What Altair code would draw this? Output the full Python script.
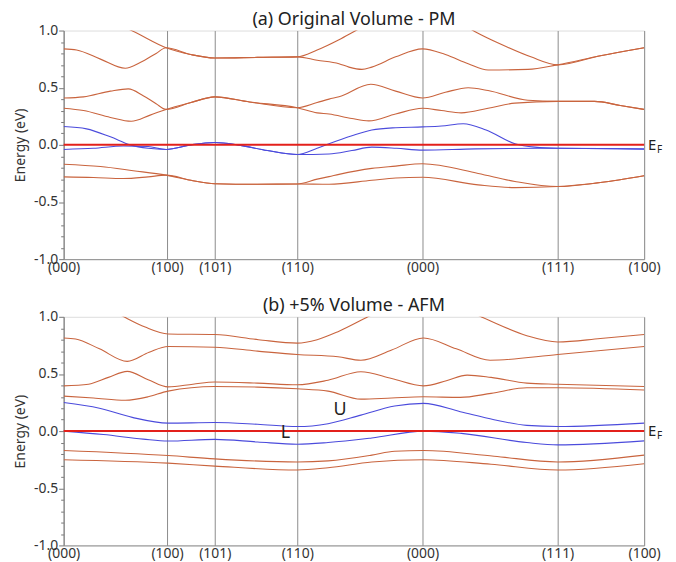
import altair as alt
import pandas as pd

# k-path positions of high-symmetry points (path distance, arb. units)
KPOS = [0, 104, 152, 235, 361, 497, 584]
KLABELS = ["(000)", "(100)", "(101)", "(110)", "(000)", "(111)", "(100)"]

TITLE_A = "(a) Original Volume - PM"
TITLE_B = "(b) +5% Volume - AFM"

# ---- panel (a) bands: (k list, energy list) ----
A_KIND = ["red", "red", "red", "red", "blue", "blue", "red", "red"]
A_K = [
    [0, 40, 73, 103, 128, 152, 195, 235, 255, 277, 294, 320, 361, 400, 414, 440, 470, 497, 540, 584],
    [0, 13, 37, 62, 77, 93, 103, 128, 152, 195, 235, 255, 277, 287, 300, 310, 334, 361, 384, 407, 427, 467, 497, 540, 584],
    [0, 20, 47, 65, 80, 93, 103, 128, 152, 187, 235, 255, 267, 277, 309, 334, 361, 384, 407, 427, 467, 497, 534, 560, 584],
    [0, 20, 47, 68, 87, 103, 128, 152, 187, 235, 255, 267, 290, 307, 334, 361, 380, 400, 427, 454, 497, 534, 560, 584],
    [0, 23, 47, 67, 85, 103, 128, 152, 175, 205, 235, 255, 267, 290, 310, 334, 361, 380, 402, 425, 454, 474, 497, 584],
    [0, 30, 60, 85, 103, 128, 152, 175, 205, 235, 267, 290, 310, 335, 361, 414, 497, 584],
    [0, 37, 70, 103, 128, 152, 195, 235, 255, 267, 277, 310, 334, 361, 417, 454, 497, 540, 584],
    [0, 30, 60, 85, 103, 128, 152, 195, 235, 267, 310, 334, 361, 417, 454, 497, 540, 584],
]
A_E = [
    [1.30, 1.12, 0.98, 0.85, 0.79, 0.76, 0.765, 0.77, 0.83, 0.92, 1.00, 1.12, 1.20, 1.06, 0.99, 0.88, 0.77, 0.70, 0.78, 0.85],
    [0.84, 0.83, 0.75, 0.67, 0.72, 0.80, 0.85, 0.79, 0.76, 0.765, 0.77, 0.74, 0.71, 0.68, 0.66, 0.68, 0.77, 0.84, 0.79, 0.71, 0.655, 0.66, 0.70, 0.78, 0.85],
    [0.41, 0.42, 0.47, 0.49, 0.43, 0.36, 0.31, 0.37, 0.42, 0.375, 0.325, 0.37, 0.40, 0.42, 0.53, 0.47, 0.41, 0.46, 0.50, 0.475, 0.39, 0.38, 0.38, 0.345, 0.31],
    [0.32, 0.30, 0.24, 0.206, 0.26, 0.31, 0.37, 0.42, 0.375, 0.325, 0.28, 0.27, 0.23, 0.21, 0.27, 0.32, 0.30, 0.28, 0.32, 0.365, 0.38, 0.38, 0.345, 0.31],
    [0.16, 0.14, 0.07, 0.0, -0.03, -0.04, 0.0, 0.02, 0.0, -0.05, -0.085, -0.03, 0.01, 0.08, 0.13, 0.15, 0.157, 0.165, 0.185, 0.13, 0.01, -0.02, -0.03, -0.035],
    [-0.04, -0.03, -0.01, -0.015, -0.04, 0.0, 0.02, 0.0, -0.05, -0.085, -0.08, -0.05, -0.02, -0.03, -0.046, -0.035, -0.03, -0.038],
    [-0.17, -0.19, -0.226, -0.265, -0.31, -0.34, -0.345, -0.342, -0.30, -0.278, -0.258, -0.206, -0.186, -0.165, -0.25, -0.32, -0.365, -0.33, -0.27],
    [-0.28, -0.285, -0.295, -0.28, -0.265, -0.31, -0.34, -0.345, -0.342, -0.345, -0.31, -0.29, -0.284, -0.35, -0.374, -0.365, -0.33, -0.27],
]

# ---- panel (b) bands ----
B_KIND = ["red", "red", "red", "red", "blue", "blue", "red", "red"]
B_K = [
    [0, 40, 62, 82, 105, 152, 196, 235, 255, 276, 306, 340, 362, 400, 429, 466, 497, 540, 584],
    [0, 12, 36, 64, 86, 105, 152, 195, 235, 276, 299, 330, 362, 395, 429, 497, 584],
    [0, 25, 45, 64, 85, 105, 130, 152, 195, 235, 266, 299, 330, 362, 385, 406, 430, 466, 497, 584],
    [0, 30, 62, 85, 105, 152, 195, 235, 266, 299, 330, 362, 399, 430, 466, 497, 584],
    [0, 36, 69, 105, 152, 195, 235, 266, 299, 333, 362, 399, 433, 466, 497, 584],
    [0, 40, 80, 105, 152, 195, 235, 266, 310, 362, 400, 466, 497, 584],
    [0, 105, 152, 235, 266, 310, 333, 362, 433, 497, 584],
    [0, 105, 152, 235, 266, 310, 362, 430, 497, 584],
]
B_E = [
    [1.35, 1.10, 0.994, 0.91, 0.85, 0.845, 0.80, 0.77, 0.80, 0.87, 1.00, 1.15, 1.20, 1.08, 0.965, 0.835, 0.78, 0.81, 0.845],
    [0.815, 0.806, 0.72, 0.61, 0.69, 0.74, 0.734, 0.70, 0.67, 0.65, 0.62, 0.71, 0.815, 0.72, 0.62, 0.67, 0.74],
    [0.396, 0.41, 0.47, 0.523, 0.45, 0.387, 0.41, 0.43, 0.42, 0.405, 0.445, 0.52, 0.46, 0.396, 0.44, 0.49, 0.47, 0.42, 0.41, 0.39],
    [0.306, 0.29, 0.27, 0.30, 0.35, 0.39, 0.385, 0.37, 0.35, 0.28, 0.29, 0.30, 0.295, 0.33, 0.38, 0.38, 0.36],
    [0.25, 0.20, 0.12, 0.07, 0.075, 0.06, 0.04, 0.065, 0.14, 0.22, 0.243, 0.17, 0.10, 0.05, 0.04, 0.07],
    [0.0, -0.03, -0.07, -0.087, -0.072, -0.095, -0.115, -0.10, -0.06, 0.0, -0.02, -0.10, -0.12, -0.085],
    [-0.17, -0.214, -0.243, -0.27, -0.26, -0.21, -0.176, -0.17, -0.22, -0.27, -0.21],
    [-0.25, -0.28, -0.306, -0.34, -0.32, -0.27, -0.25, -0.29, -0.34, -0.285],
]

# annotations in panel (b)
B_NOTES = ["L", "U"]
B_NOTES_K = [223, 278]
B_NOTES_E = [-0.02, 0.186]

RED = "#c9643e"
BLUE = "#4b4bdc"
FERMI = "#e3201b"
GRID = "#8c8c8c"
FONT = "Noto Sans"


def band_frame(kinds, ks, es):
    rows = []
    for i, (kind, kk, ee) in enumerate(zip(kinds, ks, es)):
        for k, e in zip(kk, ee):
            rows.append({"band": i, "kind": kind, "k": k, "E": e})
    return pd.DataFrame(rows)


xlabel_expr = " : ".join(
    f"datum.value == {p} ? '{l}'" for p, l in zip(KPOS, KLABELS)
) + " : ''"
major = "abs(datum.value * 2 - round(datum.value * 2)) < 0.001"
ylabel_expr = f"{major} ? replace(format(datum.value, '.1f'), '\u2212', '-') : ''"
YTICKS = [round(-1 + 0.1 * i, 1) for i in range(21)]

xscale = alt.Scale(domain=[0, KPOS[-1]], nice=False, zero=False)
yscale = alt.Scale(domain=[-1, 1], nice=False, zero=False)

xaxis = alt.Axis(
    values=KPOS, labelExpr=xlabel_expr, grid=True, gridColor=GRID, gridWidth=1,
    tickSize=0, labelPadding=1, labelFontSize=14, labelColor="#333333",
    labelFont=FONT, labelOverlap=False, labelBound=False, labelFlush=False,
    domainColor=GRID, title=None,
)
yaxis = alt.Axis(
    values=YTICKS, labelExpr=ylabel_expr, grid=False,
    tickSize={"condition": {"test": major, "value": 5}, "value": 3},
    tickColor="#777777", domainColor=GRID, labelPadding=1,
    labelFontSize=14, labelColor="#333333", labelFont=FONT,
    title="Energy (eV)", titleFontSize=14, titleFontWeight="normal",
    titleFont=FONT, titleColor="#333333", titlePadding=6,
    labelOverlap=False, labelBound=False, labelFlush=False,
)

X = alt.X("k:Q", scale=xscale, axis=xaxis)
Y = alt.Y("E:Q", scale=yscale, axis=yaxis)


def panel(title, kinds, ks, es, notes=None):
    df = band_frame(kinds, ks, es)
    lines = alt.Chart(df).mark_line(
        clip=True, interpolate="monotone", strokeWidth=1.1
    ).encode(
        x=X, y=Y,
        color=alt.Color("kind:N", scale=alt.Scale(domain=["red", "blue"], range=[RED, BLUE]), legend=None),
        detail="band:N",
    )
    ef = pd.DataFrame({"k": [KPOS[-1]], "E": [0.0]})
    fermi = alt.Chart(ef).mark_rule(color=FERMI, strokeWidth=2).encode(y=Y)
    e_txt = alt.Chart(ef).mark_text(
        text="E", align="left", baseline="middle", dx=4, fontSize=15, font=FONT, color="#222222"
    ).encode(x=X, y=Y)
    f_txt = alt.Chart(ef).mark_text(
        text="F", align="left", baseline="middle", dx=13, dy=5, fontSize=10, font=FONT, color="#222222"
    ).encode(x=X, y=Y)
    layers = [lines, fermi, e_txt, f_txt]
    if notes is not None:
        ndf = pd.DataFrame({"k": notes[1], "E": notes[2], "t": notes[0]})
        layers.append(
            alt.Chart(ndf).mark_text(fontSize=18, font=FONT, color="#222222").encode(
                x=X, y=Y, text="t:N"
            )
        )
    return alt.layer(*layers).properties(
        width=584, height=230,
        title=alt.TitleParams(title, fontSize=18, font=FONT, fontWeight="normal",
                              color="#222222", anchor="middle", offset=-5),
    )


chart = alt.vconcat(
    panel(TITLE_A, A_KIND, A_K, A_E),
    panel(TITLE_B, B_KIND, B_K, B_E, notes=(B_NOTES, B_NOTES_K, B_NOTES_E)),
    spacing=21,
).properties(
    padding={"left": 5, "top": 0, "right": 5, "bottom": 0}
).configure_view(stroke=GRID, strokeWidth=1).configure(background="white")

chart.save("out.html", embed_options={"renderer": "svg", "actions": False})
